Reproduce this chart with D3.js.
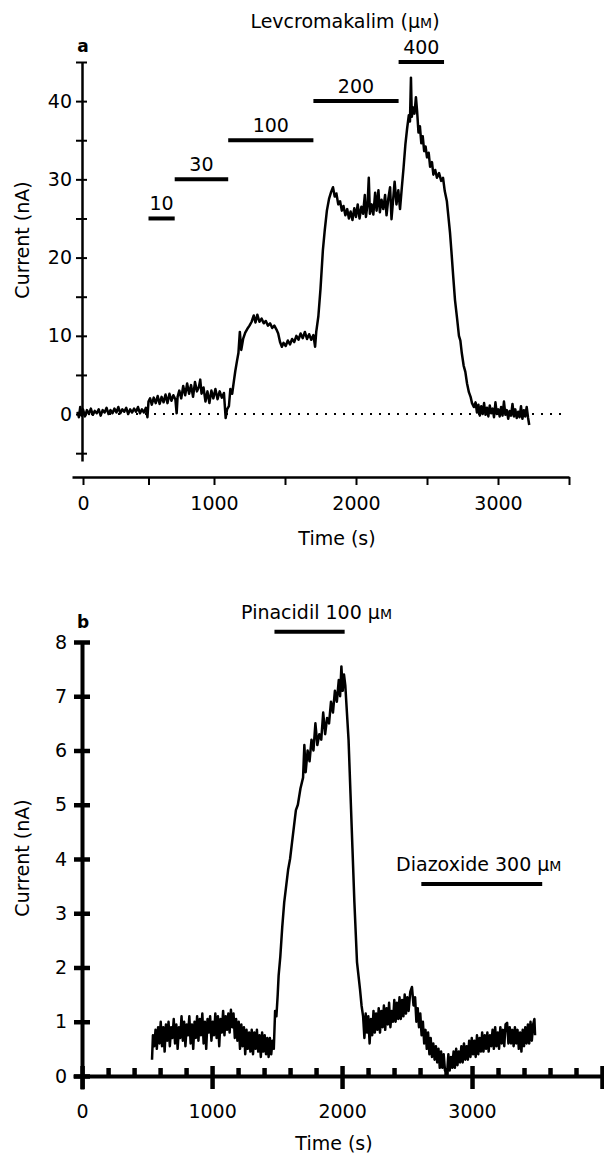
<!DOCTYPE html>
<html>
<head>
<meta charset="utf-8">
<script src="https://cdn.jsdelivr.net/npm/d3@7"></script>
<style>
  body { margin: 0; background: #fff; }
  text { font-family: "DejaVu Sans", sans-serif; fill: #000; }
</style>
</head>
<body>
<div id="chart"></div>
<script>
// ---- Panel a: levcromakalim concentration steps ----
const doseLabels = ["10", "30", "100", "200", "400"];
const doseStart = [500, 700, 1100, 1700, 2300];
const doseEnd = [700, 1100, 1700, 2300, 2620];
const doseLevel = [25, 30, 35, 40, 45];

// current trace a: [time (s), current (nA)]
const traceA = [[-40,0.3],[-30,-0.4],[-20,0.9],[-10,-0.2],[0,0.6],[15,-0.3],[30,0.5],[45,0.0],[60,0.7],[75,-0.1],[90,0.4],[105,0.1],[120,0.6],[135,-0.2],[150,0.5],[165,0.2],[180,0.8],[195,0.0],[210,0.5],[225,0.1],[240,0.7],[255,0.2],[270,0.9],[285,0.1],[300,0.6],[315,0.3],[330,0.8],[345,0.0],[360,0.6],[375,0.2],[390,0.7],[405,0.3],[420,0.9],[435,0.1],[450,0.6],[465,0.2],[480,0.8],[492,-0.4],[500,1.6],[512,2.0],[525,1.2],[540,2.1],[555,1.4],[570,2.3],[585,1.3],[600,2.2],[615,1.5],[630,2.5],[645,1.4],[660,2.6],[675,1.7],[690,2.4],[705,1.9],[715,0.1],[722,2.2],[735,3.0],[750,2.0],[765,3.6],[780,2.4],[795,3.9],[810,2.6],[825,3.7],[840,2.2],[855,4.1],[870,2.9],[885,3.5],[895,4.4],[905,2.6],[920,3.4],[935,1.6],[950,2.9],[965,1.4],[980,3.0],[995,2.0],[1010,3.2],[1025,1.9],[1040,2.9],[1055,2.1],[1070,2.7],[1082,-0.5],[1092,0.6],[1105,1.0],[1115,3.2],[1128,2.6],[1140,4.2],[1150,5.5],[1162,6.8],[1172,7.8],[1182,10.5],[1192,8.2],[1205,9.6],[1220,10.4],[1235,10.9],[1250,11.3],[1265,11.8],[1280,12.6],[1292,11.7],[1305,12.7],[1320,11.8],[1335,12.2],[1350,11.6],[1365,11.9],[1380,11.3],[1395,11.6],[1410,11.0],[1425,11.3],[1440,10.8],[1452,10.3],[1465,9.2],[1478,8.6],[1490,9.1],[1505,8.7],[1520,9.4],[1535,8.9],[1550,9.6],[1565,9.2],[1580,10.0],[1595,9.5],[1610,10.3],[1625,9.7],[1640,10.5],[1655,9.6],[1670,10.2],[1685,9.5],[1700,10.1],[1712,8.6],[1720,10.5],[1735,12.5],[1750,16.0],[1767,21.0],[1780,23.5],[1795,26.0],[1810,27.5],[1825,28.4],[1838,29.0],[1850,27.8],[1862,28.2],[1875,26.8],[1888,27.2],[1900,26.0],[1912,26.6],[1925,25.4],[1938,26.2],[1950,25.0],[1962,25.9],[1975,24.8],[1988,26.3],[2000,25.2],[2012,26.8],[2025,25.0],[2038,26.5],[2050,25.6],[2062,28.0],[2070,25.2],[2082,27.0],[2090,30.2],[2098,25.6],[2110,26.8],[2122,25.5],[2135,28.3],[2145,26.0],[2158,28.6],[2168,25.8],[2180,27.4],[2192,26.2],[2205,28.0],[2215,25.4],[2228,27.6],[2240,29.0],[2250,24.9],[2262,27.5],[2272,29.7],[2285,26.8],[2298,28.6],[2310,26.2],[2322,28.8],[2335,31.5],[2348,34.5],[2360,36.5],[2372,38.2],[2380,37.4],[2387,43.0],[2393,38.0],[2402,39.2],[2412,38.4],[2422,40.5],[2430,38.8],[2440,36.0],[2450,36.8],[2460,34.6],[2470,35.5],[2480,33.6],[2490,34.2],[2500,32.8],[2512,33.4],[2522,31.6],[2535,32.2],[2545,30.6],[2558,31.2],[2570,30.2],[2585,30.8],[2600,29.8],[2613,30.2],[2625,28.5],[2640,27.2],[2652,25.0],[2662,23.2],[2672,20.8],[2685,17.5],[2697,14.6],[2712,12.2],[2725,10.0],[2735,9.4],[2745,7.8],[2758,6.2],[2770,5.4],[2782,3.9],[2795,2.8],[2807,2.2],[2817,1.4],[2830,0.9],[2842,1.5],[2852,0.2],[2862,1.2],[2872,-0.2],[2882,1.0],[2892,0.0],[2902,1.4],[2912,-0.1],[2922,0.8],[2932,-0.3],[2942,1.1],[2952,0.1],[2962,0.7],[2972,-0.4],[2982,1.5],[2992,0.0],[3002,0.6],[3012,-0.3],[3022,0.9],[3032,-0.2],[3042,1.6],[3052,-0.1],[3062,0.5],[3072,-0.6],[3082,0.4],[3092,-0.2],[3102,1.3],[3112,-0.3],[3122,0.6],[3132,-0.5],[3142,0.3],[3152,-0.4],[3162,1.0],[3172,-0.6],[3182,0.5],[3192,-0.3],[3202,0.9],[3212,-0.5],[3220,-1.4]];

const yTicksA = [-5, 0, 5, 10, 15, 20, 25, 30, 35, 40, 45];
const yLabelsA = [0, 10, 20, 30, 40];
const xTicksA = [0, 500, 1000, 1500, 2000, 2500, 3000, 3500];
const xLabelsA = [0, 1000, 2000, 3000];

// ---- Panel b: pinacidil and diazoxide ----
const drugNames = ["Pinacidil 100 ", "Diazoxide 300 "];
const drugStart = [1480, 2610];
const drugEnd = [2020, 3540];
const drugLevel = [8.19, 3.54];

const traceB = [[538,0.3],[545,0.75],[555,0.55],[565,0.85],[575,0.5],[585,0.9],[595,0.6],[605,1.0],[615,0.55],[625,0.9],[635,0.45],[645,0.95],[655,0.65],[665,1.0],[675,0.55],[685,0.9],[695,0.7],[705,1.05],[715,0.6],[725,0.95],[735,0.5],[745,0.9],[755,0.7],[765,1.1],[775,0.65],[785,1.0],[795,0.55],[805,0.95],[815,0.75],[825,1.1],[835,0.6],[845,0.95],[855,0.5],[865,1.0],[875,0.7],[885,1.1],[895,0.65],[905,1.05],[915,0.75],[925,1.15],[935,0.6],[945,1.0],[955,0.5],[965,1.05],[975,0.8],[985,1.1],[995,0.65],[1005,1.0],[1015,0.75],[1025,1.15],[1035,0.7],[1045,1.1],[1055,0.55],[1065,1.05],[1075,0.8],[1085,1.2],[1095,0.75],[1105,1.1],[1115,0.85],[1125,1.15],[1135,0.8],[1145,1.22],[1155,0.9],[1165,1.15],[1175,0.7],[1185,1.05],[1195,0.65],[1205,1.0],[1215,0.5],[1225,0.95],[1235,0.55],[1245,0.9],[1255,0.4],[1265,0.85],[1275,0.5],[1285,0.8],[1295,0.45],[1305,0.85],[1315,0.4],[1325,0.8],[1335,0.5],[1345,0.85],[1355,0.45],[1365,0.75],[1375,0.35],[1385,0.8],[1395,0.45],[1405,0.75],[1415,0.4],[1425,0.7],[1435,0.35],[1445,0.7],[1455,0.4],[1465,0.65],[1475,0.5],[1485,1.2],[1495,1.1],[1505,1.5],[1512,1.85],[1525,2.2],[1540,2.75],[1555,3.2],[1570,3.5],[1585,3.8],[1600,4.0],[1615,4.3],[1630,4.6],[1645,4.9],[1660,5.0],[1680,5.3],[1700,5.5],[1710,6.1],[1720,5.6],[1735,6.0],[1750,5.8],[1765,6.2],[1780,6.0],[1795,6.5],[1810,6.1],[1825,6.3],[1840,6.2],[1855,6.7],[1870,6.3],[1885,6.6],[1900,6.5],[1915,6.9],[1930,6.7],[1945,7.1],[1960,6.9],[1975,7.3],[1985,7.0],[1995,7.55],[2005,7.1],[2015,7.4],[2025,7.2],[2035,6.8],[2050,6.2],[2065,5.2],[2080,4.2],[2095,3.2],[2115,2.1],[2138,1.6],[2150,1.3],[2162,1.1],[2172,0.7],[2182,1.15],[2192,0.8],[2202,1.1],[2212,0.6],[2222,1.05],[2232,0.75],[2242,1.2],[2252,0.8],[2262,1.15],[2272,0.85],[2282,1.25],[2292,0.8],[2302,1.2],[2312,0.9],[2322,1.3],[2332,0.85],[2342,1.25],[2352,0.95],[2362,1.35],[2372,0.9],[2382,1.2],[2392,1.0],[2402,1.4],[2412,1.0],[2422,1.35],[2432,1.05],[2442,1.45],[2452,1.05],[2462,1.4],[2472,1.1],[2482,1.5],[2492,1.15],[2502,1.45],[2512,1.2],[2525,1.55],[2538,1.64],[2550,1.3],[2562,1.45],[2572,1.0],[2582,1.25],[2592,0.9],[2602,1.15],[2612,0.75],[2622,1.0],[2632,0.6],[2642,0.85],[2652,0.5],[2662,0.8],[2672,0.4],[2682,0.7],[2692,0.35],[2702,0.6],[2712,0.3],[2722,0.55],[2732,0.25],[2742,0.5],[2752,0.15],[2762,0.45],[2772,0.15],[2782,0.4],[2792,0.1],[2808,0.05],[2818,0.4],[2828,0.1],[2838,0.35],[2848,0.15],[2858,0.45],[2868,0.15],[2878,0.5],[2888,0.2],[2898,0.45],[2908,0.25],[2918,0.55],[2928,0.25],[2938,0.6],[2948,0.3],[2958,0.55],[2968,0.3],[2978,0.65],[2988,0.35],[2998,0.7],[3008,0.4],[3018,0.65],[3028,0.35],[3038,0.75],[3048,0.4],[3058,0.7],[3068,0.45],[3078,0.8],[3088,0.45],[3098,0.75],[3108,0.5],[3118,0.8],[3128,0.45],[3138,0.75],[3148,0.55],[3158,0.85],[3168,0.5],[3178,0.9],[3188,0.55],[3198,0.8],[3208,0.5],[3218,0.9],[3228,0.6],[3238,0.85],[3248,0.55],[3258,0.95],[3270,0.98],[3280,0.6],[3290,0.9],[3300,0.6],[3310,0.85],[3320,0.55],[3330,0.9],[3340,0.6],[3350,0.85],[3360,0.5],[3370,0.8],[3380,0.45],[3390,0.85],[3400,0.55],[3410,0.9],[3420,0.6],[3430,0.95],[3440,0.6],[3450,1.0],[3460,0.65],[3470,0.95],[3480,1.05],[3485,0.75]];

const yTicksB = [0, 1, 2, 3, 4, 5, 6, 7, 8];
const xTicksB = d3.range(0, 4001, 200);
const xLabelsB = [0, 1000, 2000, 3000];

const width = 604;
const height = 1157;

const svg = d3.select("#chart")
    .append("svg")
    .attr("width", width)
    .attr("height", height);

// small-caps style "μM" unit
function addUnit(sel, before, after) {
    sel.text(before + "μ");
    sel.append("tspan").style("font-size", "14px").text("M");
    if (after) sel.append("tspan").text(after);
}

// ================= Panel a =================
const xA = d3.scaleLinear().domain([-80, 0, 1000, 3500]).range([72, 83, 214, 569]);
const yA = d3.scaleLinear().domain([-6, 45]).range([461, 62]);

// zero reference (dotted)
svg.append("line")
    .attr("x1", 82).attr("x2", xA(3450))
    .attr("y1", yA(0)).attr("y2", yA(0))
    .attr("stroke", "#000")
    .attr("stroke-width", 2)
    .attr("stroke-dasharray", "2 7");

// y axis a
const yAxisA = svg.append("g")
    .attr("transform", "translate(82,0)")
    .call(d3.axisLeft(yA).tickValues(yTicksA).tickSizeInner(6).tickSizeOuter(0).tickPadding(4)
        .tickFormat(d => yLabelsA.includes(d) ? d : ""));
yAxisA.select(".domain").attr("stroke-width", 2.5);
yAxisA.selectAll(".tick line").attr("x1", 5).attr("stroke-width", 2);
yAxisA.selectAll(".tick text").style("font-size", "19px");

// x axis a
const xAxisA = svg.append("g")
    .attr("transform", "translate(0,477)")
    .call(d3.axisBottom(xA).tickValues(xTicksA).tickSizeInner(8).tickSizeOuter(0).tickPadding(12)
        .tickFormat(d => xLabelsA.includes(d) ? d : ""));
xAxisA.select(".domain").attr("stroke-width", 2.5);
xAxisA.selectAll(".tick line").attr("stroke-width", 2);
xAxisA.selectAll(".tick text").style("font-size", "19px");

// trace a
svg.append("path")
    .datum(traceA)
    .attr("fill", "none")
    .attr("stroke", "#000")
    .attr("stroke-width", 2.5)
    .attr("stroke-linejoin", "round")
    .attr("d", d3.line().x(d => xA(d[0])).y(d => yA(d[1])));

// dose bars
svg.selectAll(".doseBar")
    .data(doseLabels)
    .enter()
    .append("line")
    .attr("class", "doseBar")
    .attr("x1", (d, i) => xA(doseStart[i]))
    .attr("x2", (d, i) => xA(doseEnd[i]))
    .attr("y1", (d, i) => yA(doseLevel[i]))
    .attr("y2", (d, i) => yA(doseLevel[i]))
    .attr("stroke", "#000")
    .attr("stroke-width", 4);

svg.selectAll(".doseLabel")
    .data(doseLabels)
    .enter()
    .append("text")
    .attr("class", "doseLabel")
    .attr("x", (d, i) => (xA(doseStart[i]) + xA(doseEnd[i])) / 2)
    .attr("y", (d, i) => yA(doseLevel[i]) - 8)
    .attr("text-anchor", "middle")
    .style("font-size", "19px")
    .text(d => d);

svg.append("text")
    .attr("x", 345).attr("y", 28)
    .attr("text-anchor", "middle")
    .style("font-size", "19px")
    .call(addUnit, "Levcromakalim (", ")");

svg.append("text")
    .attr("x", 83).attr("y", 52)
    .attr("text-anchor", "middle")
    .style("font-size", "17px")
    .style("font-weight", "bold")
    .text("a");

svg.append("text")
    .attr("transform", "translate(29,240) rotate(-90)")
    .attr("text-anchor", "middle")
    .style("font-size", "19px")
    .text("Current (nA)");

svg.append("text")
    .attr("x", 337).attr("y", 545)
    .attr("text-anchor", "middle")
    .style("font-size", "19px")
    .text("Time (s)");

// ================= Panel b =================
const xB = d3.scaleLinear().domain([-70, 4000]).range([73, 602]);
const yB = d3.scaleLinear().domain([-0.24, 8]).range([1089, 642]);

const yAxisB = svg.append("g")
    .attr("transform", "translate(82,0)")
    .call(d3.axisLeft(yB).tickValues(yTicksB).tickSizeInner(8).tickSizeOuter(0).tickPadding(7));
yAxisB.select(".domain").attr("stroke-width", 4);
yAxisB.selectAll(".tick line").attr("x1", 8).attr("stroke-width", 4.5);
yAxisB.selectAll(".tick text").style("font-size", "19px");

const xAxisB = svg.append("g")
    .attr("transform", "translate(0," + yB(0) + ")")
    .call(d3.axisBottom(xB).tickValues(xTicksB).tickSizeInner(13).tickSizeOuter(0).tickPadding(16)
        .tickFormat(d => xLabelsB.includes(d) ? d : ""));
xAxisB.select(".domain").attr("stroke-width", 4);
xAxisB.selectAll(".tick line")
    .attr("stroke-width", 4.5)
    .attr("y1", d => d % 1000 === 0 ? -10 : -8)
    .attr("y2", d => d % 1000 === 0 ? 13 : 0);
xAxisB.selectAll(".tick text").style("font-size", "19px");

svg.append("path")
    .datum(traceB)
    .attr("fill", "none")
    .attr("stroke", "#000")
    .attr("stroke-width", 2.5)
    .attr("stroke-linejoin", "round")
    .attr("d", d3.line().x(d => xB(d[0])).y(d => yB(d[1])));

svg.selectAll(".drugBar")
    .data(drugNames)
    .enter()
    .append("line")
    .attr("class", "drugBar")
    .attr("x1", (d, i) => xB(drugStart[i]))
    .attr("x2", (d, i) => xB(drugEnd[i]))
    .attr("y1", (d, i) => yB(drugLevel[i]))
    .attr("y2", (d, i) => yB(drugLevel[i]))
    .attr("stroke", "#000")
    .attr("stroke-width", 4);

svg.selectAll(".drugLabel")
    .data(drugNames)
    .enter()
    .append("text")
    .attr("class", "drugLabel")
    .attr("x", (d, i) => (xB(drugStart[i]) + xB(drugEnd[i])) / 2 + (i === 0 ? 7 : -3))
    .attr("y", (d, i) => yB(drugLevel[i]) - 13)
    .attr("text-anchor", "middle")
    .style("font-size", "19px")
    .each(function (d) { d3.select(this).call(addUnit, d, ""); });

svg.append("text")
    .attr("x", 83).attr("y", 628)
    .attr("text-anchor", "middle")
    .style("font-size", "17px")
    .style("font-weight", "bold")
    .text("b");

svg.append("text")
    .attr("transform", "translate(29,858) rotate(-90)")
    .attr("text-anchor", "middle")
    .style("font-size", "19px")
    .text("Current (nA)");

svg.append("text")
    .attr("x", 334).attr("y", 1150)
    .attr("text-anchor", "middle")
    .style("font-size", "19px")
    .text("Time (s)");
</script>
</body>
</html>
